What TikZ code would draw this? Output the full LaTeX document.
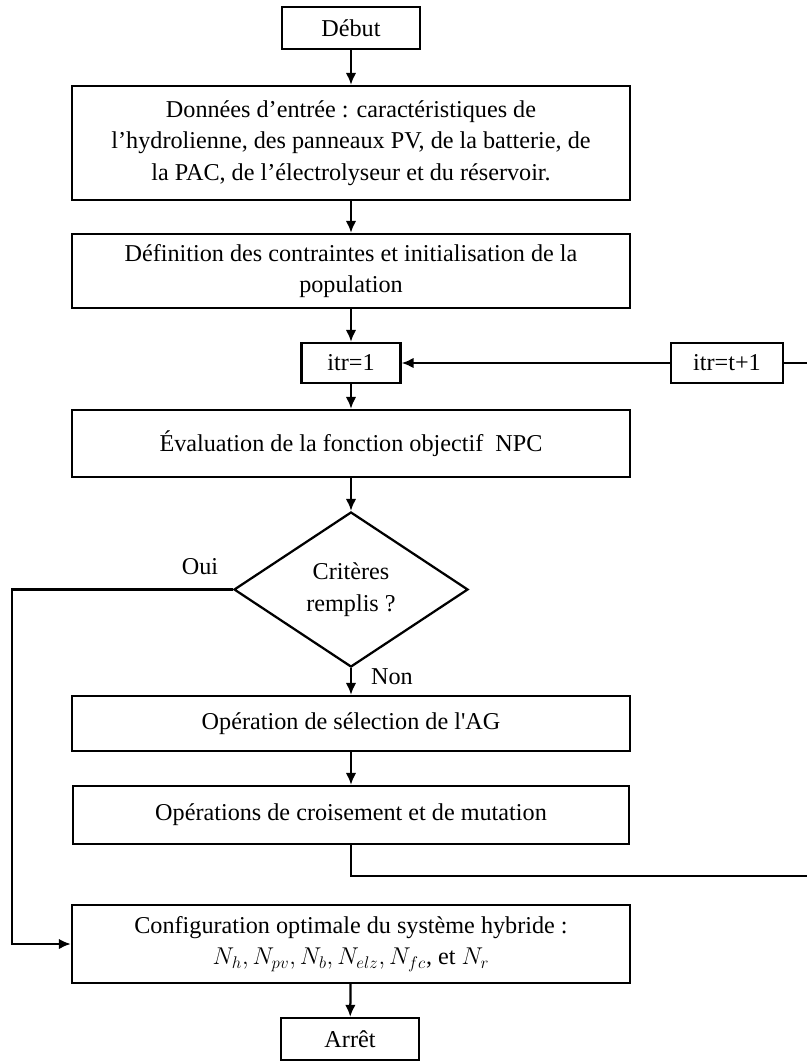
\documentclass[tikz,border=0pt]{standalone}
\usepackage{fontspec}
\setmainfont{Liberation Serif}
\usepackage{tikz}
\usetikzlibrary{arrows.meta, shapes.geometric}

\tikzset{
  procbox/.style={draw, line width=1.6pt, align=center, inner sep=2pt, font=\fontsize{17.2}{22.5}\selectfont},
  flowarrow/.style={line width=1.6pt, -{Latex[length=8.5pt,width=7.5pt]}},
  flowline/.style={line width=1.6pt},
  flowlabel/.style={font=\fontsize{17.2}{22.5}\selectfont},
}

\begin{document}
\begin{tikzpicture}[x=0.025cm, y=-0.025cm]
\useasboundingbox (0,0) rectangle (807,1061);

\node[procbox, minimum width=3.45cm, minimum height=1.05cm] (debut) at (351,28) {Début};
\node[procbox, minimum width=13.95cm, minimum height=2.85cm] (donnees) at (351,143)
  {Données d’entrée : caractéristiques de\\ l’hydrolienne, des panneaux PV, de la batterie, de\\ la PAC, de l’électrolyseur et du réservoir.};
\node[procbox, minimum width=13.95cm, minimum height=1.85cm] (contraintes) at (351,271)
  {Définition des contraintes et initialisation de la\\ population};
\node[procbox, minimum width=2.475cm, minimum height=1cm] (itrun) at (351,363) {itr=1};
\node[procbox, minimum width=2.8cm, minimum height=1cm] (itrsuiv) at (727,363) {itr=t+1};
\node[procbox, minimum width=13.95cm, minimum height=1.675cm] (evaluation) at (351,443.5)
  {Évaluation de la fonction objectif~ NPC};
\node[procbox, diamond, inner sep=0pt, minimum width=5.85cm, minimum height=3.875cm] (criteres) at (351,589.5)
  {Critères\\ remplis ?};
\node[procbox, minimum width=13.95cm, minimum height=1.375cm] (selection) at (351,723.5)
  {Opération de sélection de l\textquotesingle AG};
\node[procbox, minimum width=13.9cm, minimum height=1.45cm] (croisement) at (351,815)
  {Opérations de croisement et de mutation};
\node[procbox, minimum width=13.95cm, minimum height=1.95cm] (config) at (351,944)
  {Configuration optimale du système hybride :\\ $N_h, N_{pv}, N_b, N_{elz}, N_{fc}$, et $N_r$};
\node[procbox, minimum width=3.45cm, minimum height=1.05cm] (arret) at (350,1039) {Arrêt};

% labels of the test
\node[flowlabel] (oui) at (200,567) {Oui};
\node[flowlabel] (non) at (392,677) {Non};

% main chain
\draw[flowarrow] (debut) -- (donnees);
\draw[flowarrow] (donnees) -- (contraintes);
\draw[flowarrow] (contraintes) -- (itrun);
\draw[flowarrow] (itrun) -- (evaluation);
\draw[flowarrow] (evaluation) -- (criteres);
\draw[flowarrow] (criteres) -- (selection);
\draw[flowarrow] (selection) -- (croisement);
\draw[flowarrow] (config) -- (arret);

% loop back
\coordinate (bouclebas) at (815,876);
\coordinate (bouclehaut) at (815,363);
\draw[flowline] (croisement.south) |- (bouclebas) -- (bouclehaut) -- (itrsuiv.east);
\draw[flowarrow] (itrsuiv) -- (itrun);

% exit
\coordinate (sortie) at (12,589.5);
\draw[flowarrow] (criteres.west) -- (sortie) |- (config.west);
\end{tikzpicture}
\end{document}
